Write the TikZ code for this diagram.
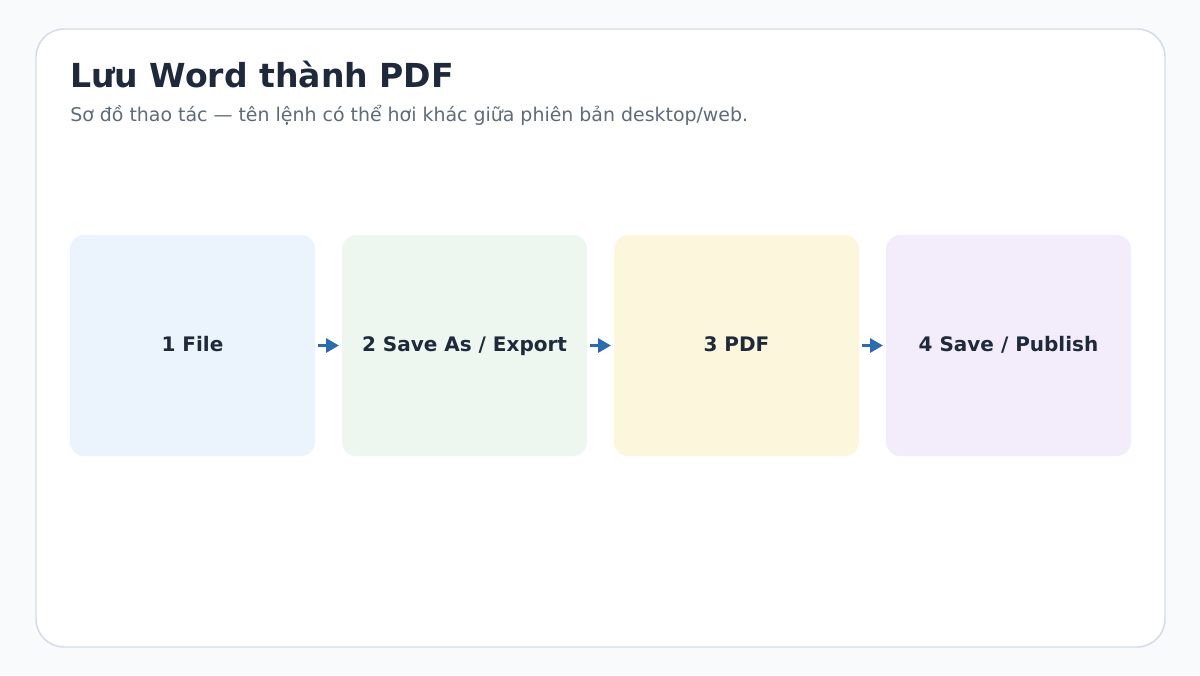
\documentclass[tikz,border=0pt]{standalone}
\usepackage{fontspec}
\setmainfont{DejaVu Sans}
\usetikzlibrary{positioning,arrows.meta}
\definecolor{pagebg}{HTML}{F8FAFC}
\definecolor{cardline}{HTML}{D3DCE6}
\definecolor{titlecol}{HTML}{1E293B}
\definecolor{subcol}{HTML}{5F6B7A}
\definecolor{arrowcol}{HTML}{2B6CB0}
\definecolor{stepblue}{HTML}{EBF3FD}
\definecolor{stepgreen}{HTML}{EDF7EF}
\definecolor{stepyellow}{HTML}{FBF6DC}
\definecolor{steppurple}{HTML}{F3EDFB}
\tikzset{
  stepbox/.style={minimum width=245*0.75pt,minimum height=221*0.75pt,rounded corners=10.5pt,
    font=\fontsize{15}{18}\selectfont\bfseries,text=titlecol,inner sep=0pt,outer sep=0pt,
    text height=12pt,text depth=3.75pt},
  steparrow/.style={-{Triangle[length=9.75pt,width=10.5pt]},line width=2.25pt,color=arrowcol,
    shorten <=2.25pt,shorten >=2.25pt}
}
\begin{document}
\begin{tikzpicture}[line cap=butt,line join=round,x=0.75pt,y=-0.75pt]
\fill[pagebg] (0,0) rectangle (1200,675);
\useasboundingbox (0,0) rectangle (1200,675);
\draw[line width=1.1pt,color=cardline,fill=white,rounded corners=21pt] (36,29) rectangle (1165,647);
%titel
\node[anchor=base west,inner sep=0pt,text=titlecol,font=\fontsize{24.8}{29}\selectfont\bfseries] (title) at (70,87) {Lưu Word thành PDF};
\node[anchor=base west,inner sep=0pt,text=subcol,font=\fontsize{14.2}{17}\selectfont] (subtitle) at (70,121.5) {Sơ đồ thao tác — tên lệnh có thể hơi khác giữa phiên bản desktop/web.};
%steps
\node[stepbox,fill=stepblue] (s1) at (192.5,345.5) {1 File};
\node[stepbox,fill=stepgreen,right=27*0.75pt of s1] (s2) {2 Save As / Export};
\node[stepbox,fill=stepyellow,right=27*0.75pt of s2] (s3) {3 PDF};
\node[stepbox,fill=steppurple,right=27*0.75pt of s3] (s4) {4 Save / Publish};
\foreach \a/\b in {s1/s2,s2/s3,s3/s4}
{
    \draw[steparrow] (\a.east) -- (\b.west);
};
\end{tikzpicture}
\end{document}
